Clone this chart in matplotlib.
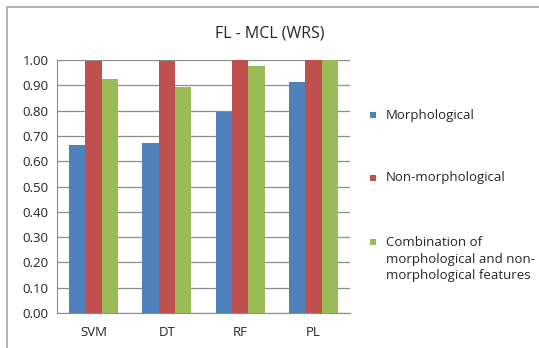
import matplotlib
matplotlib.use("Agg")
import matplotlib.pyplot as plt
from matplotlib.patches import Rectangle
import numpy as np

categories = ["SVM", "DT", "RF", "PL"]
series_names = [
    "Morphological",
    "Non-morphological",
    "Combination of\nmorphological and non-\nmorphological features",
]
morphological = [0.665, 0.670, 0.795, 0.915]
non_morphological = [0.995, 0.995, 1.000, 1.000]
combination = [0.925, 0.895, 0.975, 1.000]
y_ticks = [0.0, 0.1, 0.2, 0.3, 0.4, 0.5, 0.6, 0.7, 0.8, 0.9, 1.0]

colors = ["#4F81BD", "#C0504D", "#9BBB59"]
grid_color = "#8C8C8C"
text_color = "#262626"

plt.rcParams["font.family"] = ["Open Sans", "DejaVu Sans"]

W, H = 539, 348
fig = plt.figure(figsize=(W / 100, H / 100), dpi=100)

# outer chart frame (right and bottom edges fall outside the canvas)
fig.patches.append(Rectangle((7 / W, -0.1), 1.2, 1 - 7 / H + 0.1,
                             transform=fig.transFigure, fill=False,
                             edgecolor="#A6A6A6", linewidth=1.2))

ax = fig.add_axes([57 / W, 1 - 313 / H, (350 - 57) / W, (313 - 60) / H])

x = np.arange(len(categories))
bw = 0.222
for i, vals in enumerate([morphological, non_morphological, combination]):
    ax.bar(x + (i - 1) * bw, vals, width=bw, color=colors[i], zorder=3)

ax.set_xlim(-0.5, len(categories) - 0.5)
ax.set_ylim(0, 1.0)
ax.set_yticks(y_ticks)
ax.set_yticklabels([f"{t:.2f}" for t in y_ticks], fontsize=9.5, color=text_color)
ax.set_xticks(x)
ax.set_xticklabels(categories, fontsize=9.5, color=text_color)
ax.yaxis.grid(True, color=grid_color, linewidth=0.9, zorder=0)
ax.tick_params(axis="y", length=0, pad=6)
ax.tick_params(axis="x", length=0, pad=9)
for s in ["top", "right"]:
    ax.spines[s].set_visible(False)
ax.spines["left"].set_color(grid_color)
ax.spines["bottom"].set_color(grid_color)

fig.text(270 / W, 1 - 33 / H, "FL - MCL (WRS)", ha="center", va="center",
         fontsize=11.5, color=text_color)

# legend: one colour square and its label per series, spaced down the right side
legend_y = [115, 178, 242]
for c, name, yy in zip(colors, series_names, legend_y):
    fig.patches.append(Rectangle((370 / W, 1 - (yy + 3) / H), 6 / W, 6 / H,
                                 transform=fig.transFigure, facecolor=c,
                                 edgecolor="none"))
    for k, line in enumerate(name.split("\n")):
        fig.text(386 / W, 1 - (yy + 17 * k) / H, line, ha="left", va="center",
                 fontsize=9.5, color=text_color)

fig.savefig("out.png", dpi=100)
